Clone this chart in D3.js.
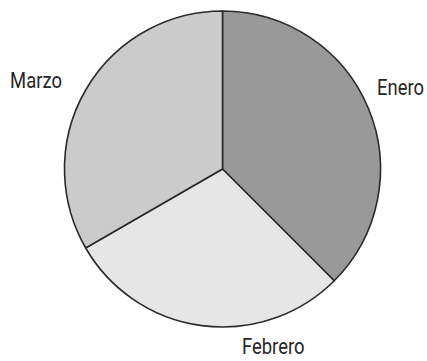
<!DOCTYPE html>
<html>
<head>
<meta charset="utf-8">
<script src="https://cdn.jsdelivr.net/npm/d3@7"></script>
<style>
  html, body { margin: 0; padding: 0; background: #fff; }
  svg { display: block; }
  text { font-family: "Roboto", "Liberation Sans", sans-serif; font-size: 22.5px; fill: #262626; }
</style>
</head>
<body>
<svg id="chart" width="427" height="361"></svg>
<script>
// Months and their counts
const categories = ["Enero", "Febrero", "Marzo"];
const values = [9, 7, 8];
const colors = ["#999999", "#e6e6e6", "#cbcbcb"];

const width = 427, height = 361;
const cx = 222.5, cy = 169, radius = 158;

const svg = d3.select("#chart");
const g = svg.append("g").attr("transform", `translate(${cx},${cy})`);

const data = categories.map((c, i) => ({ name: c, value: values[i], color: colors[i] }));

const pie = d3.pie().sort(null).value(d => d.value);
const arc = d3.arc().innerRadius(0).outerRadius(radius);
const arcs = pie(data);

g.selectAll("path.slice")
  .data(arcs)
  .enter().append("path")
  .attr("class", "slice")
  .attr("d", arc)
  .attr("fill", d => d.data.color)
  .attr("stroke", "#2a2a2a")
  .attr("stroke-width", 1.6)
  .attr("stroke-linejoin", "miter");

// Labels sit just outside the rim; each is placed along a chosen angle
// and distance, and drawn in a narrowed face.
const labelPlace = {
  Enero:   { deg: 62,  r: 175 },
  Febrero: { deg: 164, r: 184 },
  Marzo:   { deg: 299, r: 183.5 }
};
const narrow = 0.82;
const polar = name => {
  const p = labelPlace[name], a = p.deg * Math.PI / 180;
  return [p.r * Math.sin(a), -p.r * Math.cos(a)];
};

g.selectAll("g.label")
  .data(arcs)
  .enter().append("g")
  .attr("class", "label")
  .attr("transform", d => {
    const [x, y] = polar(d.data.name);
    return `translate(${x},${y}) scale(${narrow},1)`;
  })
  .append("text")
  .attr("dy", "0.36em")
  .attr("text-anchor", d => {
    const [x] = polar(d.data.name);
    return Math.abs(x) < 80 ? "middle" : (x > 0 ? "start" : "end");
  })
  .text(d => d.data.name);
</script>
</body>
</html>
